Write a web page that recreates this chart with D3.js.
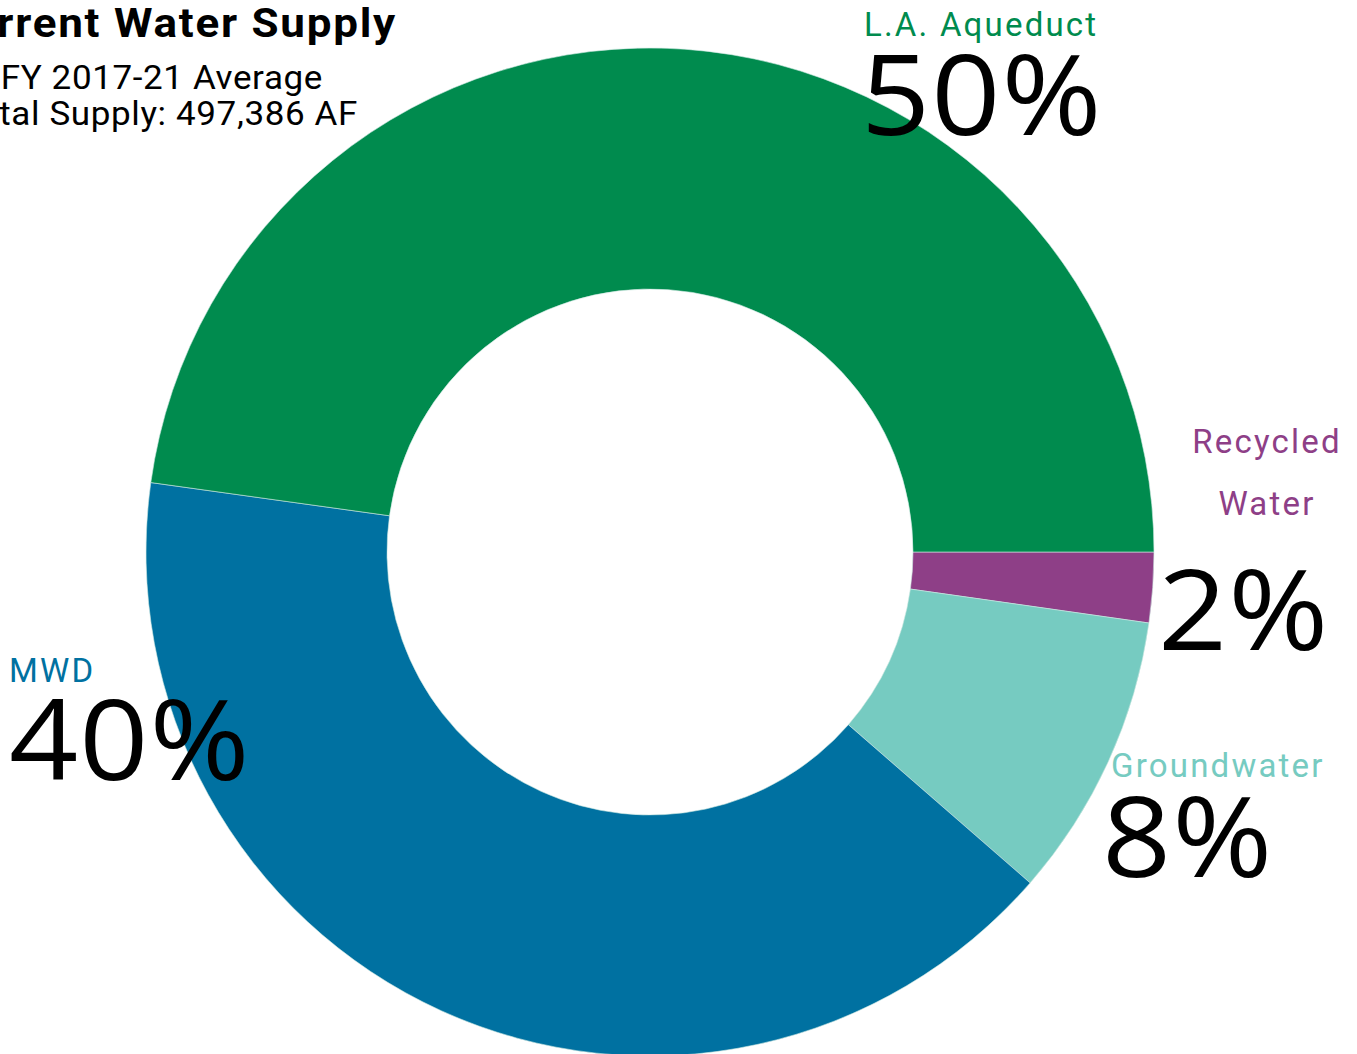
<!DOCTYPE html>
<html>
<head>
<meta charset="utf-8">
<script src="https://cdn.jsdelivr.net/npm/d3@7"></script>
<style>
  html, body { margin: 0; padding: 0; background: #fff; overflow: hidden; }
  svg { display: block; }
  .label { font-family: Roboto, sans-serif; font-size: 33px; letter-spacing: 2.2px; }
  .pct { font-family: "Open Sans", sans-serif; font-size: 112px; letter-spacing: 1px; fill: #000; }
  .title { font-family: Roboto, sans-serif; fill: #000; }
</style>
</head>
<body>
<svg id="chart"></svg>
<script>
const chartSize = { width: 1357, height: 1054 };
const center = { x: 650, y: 552 };
const outerRadius = 504;
const innerRadius = 263;

// slices in drawing order, clockwise from 3 o'clock
const sources = ["Recycled Water", "Groundwater", "MWD", "L.A. Aqueduct"];
const shares = [2.25, 9.15, 40.8, 47.8];
const shareLabels = ["2%", "8%", "40%", "50%"];
const colours = ["#8e3f87", "#76cbc1", "#0071a1", "#008b4e"];

const titleLines = ["Current Water Supply", "FY 2017-21 Average", "Total Supply: 497,386 AF"];

// where each name / percentage sits
const labelLayout = {
  "Recycled Water": { name: ["Recycled", "Water"], x: 1267, y: 453, dy: 62, anchor: "middle", px: 1158, py: 650 },
  "Groundwater": { name: ["Groundwater"], x: 1111, y: 777, anchor: "start", px: 1102, py: 877 },
  "MWD": { name: ["MWD"], x: 9, y: 682, anchor: "start", px: 9, py: 780 },
  "L.A. Aqueduct": { name: ["L.A. Aqueduct"], x: 864, y: 36, anchor: "start", px: 861, py: 135 }
};

const svg = d3.select("#chart")
  .attr("width", chartSize.width)
  .attr("height", chartSize.height);

const data = sources.map((s, i) => ({ source: s, share: shares[i], label: shareLabels[i], colour: colours[i] }));

const pie = d3.pie()
  .sort(null)
  .value(d => d.share)
  .startAngle(Math.PI / 2)
  .endAngle(Math.PI / 2 + 2 * Math.PI);

const arc = d3.arc()
  .innerRadius(innerRadius)
  .outerRadius(outerRadius);

const g = svg.append("g")
  .attr("transform", `translate(${center.x}, ${center.y})`);

g.selectAll("path")
  .data(pie(data))
  .enter()
  .append("path")
  .attr("d", arc)
  .attr("fill", d => d.data.colour)
  .attr("stroke", "#cfe9e2")
  .attr("stroke-width", 0.6);

// labels
data.forEach(d => {
  const l = labelLayout[d.source];
  const name = svg.append("text")
    .attr("class", "label")
    .attr("fill", d.colour)
    .attr("text-anchor", l.anchor);
  l.name.forEach((line, i) => {
    name.append("tspan")
      .attr("x", l.x)
      .attr("y", l.y + i * (l.dy || 0))
      .text(line);
  });
  // the original face is wider than Open Sans, so stretch it a bit
  svg.append("text")
    .attr("class", "pct")
    .attr("transform", `translate(${l.px}, ${l.py}) scale(1.08, 1)`)
    .text(d.label);
});

// title block, cut off at the left edge
const titleRight = [397, 323, 358];
const titleBase = [37, 89, 125];
titleLines.forEach((t, i) => {
  svg.append("text")
    .attr("class", "title")
    .attr("transform", `translate(${titleRight[i]}, ${titleBase[i]}) scale(${i === 0 ? 1.1 : 1.03}, 1)`)
    .attr("text-anchor", "end")
    .attr("font-size", i === 0 ? 40 : 34)
    .attr("font-weight", i === 0 ? 700 : 400)
    .attr("letter-spacing", i === 0 ? 1.6 : 0.6)
    .text(t);
});
</script>
</body>
</html>
